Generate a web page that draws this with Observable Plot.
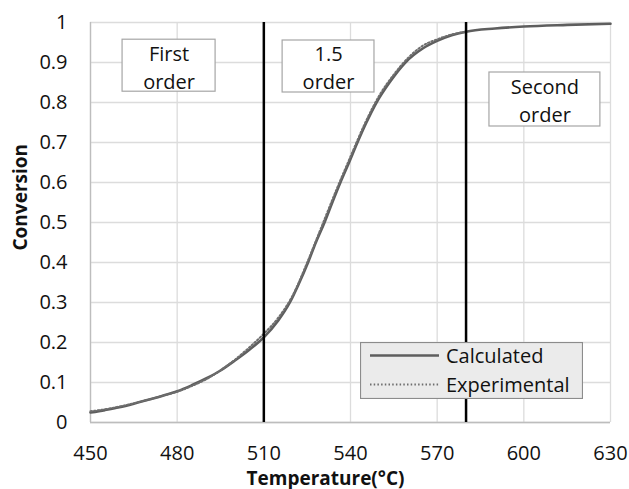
<!DOCTYPE html>
<html><head><meta charset="utf-8">
<script src="https://cdn.jsdelivr.net/npm/d3@7"></script>
<script src="https://cdn.jsdelivr.net/npm/@observablehq/plot@0.6"></script>
<style>
body{margin:0;background:#fff;font-family:"Open Sans",sans-serif;}
#wrap{position:relative;width:629px;height:489px;overflow:hidden;}
#legend{position:absolute;left:360px;top:342px;}
</style></head><body><div id="wrap"></div>
<script>
// ---- data ----
const calcT = [450,455,460,465,470,475,480,485,490,495,500,505,510,515,519,522,525.3,528,531,533.7,536.5,539.5,542.4,545.5,549,553.5,559,565,570,575,580,590,600,615,630];
const calcX = [0.025,0.031,0.038,0.047,0.057,0.067,0.078,0.093,0.11,0.13,0.155,0.182,0.213,0.255,0.3,0.345,0.4,0.45,0.5,0.55,0.6,0.65,0.7,0.75,0.8,0.85,0.9,0.935,0.954,0.968,0.977,0.985,0.99,0.994,0.997];
const expT = [450,455,460,465,470,475,480,485,490,495,500,505,510,515,520,525,530,535,540,545,550,555,560,565,570,575,580];
const expX = [0.028,0.033,0.04,0.048,0.057,0.067,0.077,0.091,0.108,0.13,0.157,0.188,0.222,0.262,0.318,0.4,0.49,0.58,0.665,0.748,0.818,0.87,0.912,0.942,0.958,0.97,0.977];
const xTicks = [450,480,510,540,570,600,630];
const yTicks = [0,0.1,0.2,0.3,0.4,0.5,0.6,0.7,0.8,0.9,1];
const yTickLabels = ["0","0.1","0.2","0.3","0.4","0.5","0.6","0.7","0.8","0.9","1"];
const boundaries = [510,580];
const regionNames = ["First\norder","1.5\norder","Second\norder"];
const seriesNames = ["Calculated","Experimental"];
const xTitle = "Temperature(°C)";
const yTitle = "Conversion";

// ---- annotation placement (data units) ----
const boxPlace = [
  {x1:461.1,x2:493.3,y1:0.827,y2:0.957},
  {x1:516.5,x2:548.3,y1:0.825,y2:0.955},
  {x1:588.1,x2:626.5,y1:0.740,y2:0.875}
];
const boxes = regionNames.map((name,i)=>({name,...boxPlace[i]}));
const calc = calcT.map((t,i)=>({t,c:calcX[i]}));
const exp = expT.map((t,i)=>({t,c:expX[i]}));

const FONT = "Open Sans";
const chart = Plot.plot({
  width:629, height:489,
  marginLeft:90, marginRight:19, marginTop:22, marginBottom:67,
  style:{fontFamily:FONT, fontSize:"20px", color:"#111", background:"#fff"},
  x:{domain:[450,630]},
  y:{domain:[0,1]},
  marks:[
    Plot.gridX(xTicks,{stroke:"#dcdcdc",strokeOpacity:1,strokeWidth:1.3}),
    Plot.gridY(yTicks,{stroke:"#dcdcdc",strokeOpacity:1,strokeWidth:1.3}),
    Plot.ruleX([450],{stroke:"#bdbdbd",strokeWidth:1.3}),
    Plot.ruleY([0],{stroke:"#bdbdbd",strokeWidth:1.3}),
    Plot.rect(boxes,{x1:"x1",x2:"x2",y1:"y1",y2:"y2",fill:"#fff",stroke:"#a6a6a6",strokeWidth:1.2}),
    Plot.text(boxes,{x:d=>(d.x1+d.x2)/2,y:d=>(d.y1+d.y2)/2,text:"name",fontSize:20,lineHeight:1.4,fill:"#111"}),
    Plot.line(calc,{x:"t",y:"c",stroke:"#5e5e5e",strokeWidth:2.6,curve:"monotone-x"}),
    Plot.line(exp,{x:"t",y:"c",stroke:"#6e6e6e",strokeWidth:2,strokeDasharray:"1.5,2.2",curve:"monotone-x"}),
    Plot.ruleX(boundaries,{stroke:"#000",strokeWidth:2.5}),
    Plot.axisX(xTicks,{tickSize:0,tickPadding:23,fontSize:20,tickFormat:d=>String(d),label:null}),
    Plot.axisY(yTicks,{tickSize:0,tickPadding:23,fontSize:20,tickFormat:(d,i)=>yTickLabels[i],label:null}),
    Plot.text([xTitle],{frameAnchor:"bottom",dx:-25,dy:62,lineAnchor:"bottom",fontWeight:"bold",fontSize:19,fill:"#111"}),
    Plot.text([yTitle],{frameAnchor:"left",dx:-70,dy:28,rotate:-90,fontWeight:"bold",fontSize:19,fill:"#111"})
  ]
});
const wrap = document.getElementById("wrap");
wrap.appendChild(chart);

// ---- legend overlay ----
const lg = d3.select(wrap).append("div").attr("id","legend")
  .append("svg").attr("width",223).attr("height",57).style("font-family",FONT);
lg.append("rect").attr("x",0.5).attr("y",0.5).attr("width",222).attr("height",56)
  .attr("fill","#ebebeb").attr("stroke","#8c8c8c").attr("stroke-width",1.2);
const rows = [{name:seriesNames[0],dash:null,w:2.6,c:"#5e5e5e"},{name:seriesNames[1],dash:"1.5,2.2",w:2,c:"#6e6e6e"}];
rows.forEach((r,i)=>{
  const cy = 13.5 + i*29;
  lg.append("line").attr("x1",10).attr("x2",79).attr("y1",cy).attr("y2",cy)
    .attr("stroke",r.c).attr("stroke-width",r.w).attr("stroke-dasharray",r.dash);
  lg.append("text").attr("x",86).attr("y",cy).attr("dy","0.35em")
    .attr("font-size",20).attr("fill","#111").text(r.name);
});
</script></body></html>
